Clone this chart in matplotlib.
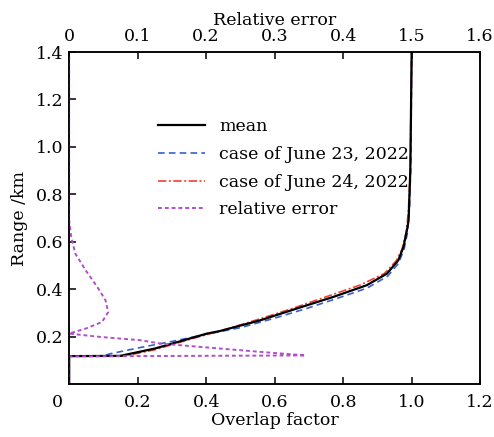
import numpy as np
import matplotlib
matplotlib.use("Agg")
import matplotlib.pyplot as plt
from matplotlib.transforms import ScaledTranslation

plt.rcParams['font.family'] = ['DejaVu Serif']
plt.rcParams['font.size'] = 12.5

# overlap factor curves (overlap, range km)
mean_x = [0, 0, 0.149, 0.25, 0.33, 0.402, 0.441, 0.558, 0.674, 0.772, 0.869, 0.928, 0.961, 0.976, 0.986, 0.991, 0.996, 1.0]
mean_y = [0, 0.118, 0.119, 0.15, 0.183, 0.213, 0.224, 0.269, 0.323, 0.368, 0.417, 0.466, 0.522, 0.578, 0.648, 0.69, 0.9, 1.4]

jun23_x = [0, 0, 0.10, 0.12, 0.2, 0.3, 0.4, 0.5, 0.6, 0.7, 0.8, 0.87, 0.93, 0.962, 0.978, 0.988, 0.994, 0.998, 1.0]
jun23_y = [0, 0.118, 0.119, 0.128, 0.152, 0.18, 0.21, 0.238, 0.278, 0.322, 0.37, 0.405, 0.455, 0.51, 0.57, 0.64, 0.75, 0.95, 1.4]

jun24_x = [0, 0, 0.16, 0.25, 0.35, 0.45, 0.55, 0.65, 0.75, 0.85, 0.92, 0.955, 0.972, 0.984, 0.99, 0.996, 1.0]
jun24_y = [0, 0.118, 0.118, 0.145, 0.188, 0.228, 0.272, 0.318, 0.368, 0.418, 0.466, 0.52, 0.57, 0.64, 0.72, 0.9, 1.4]

# relative error (top axis)
err_x = [0, 0, 0.345, 0.279, 0.22, 0.133, 0.104, 0.045, 0, 0.024, 0.048, 0.057, 0.053, 0.041, 0.024, 0.009, 0.003, 0, 0]
err_y = [0, 0.117, 0.121, 0.136, 0.150, 0.171, 0.185, 0.199, 0.213, 0.234, 0.262, 0.304, 0.354, 0.41, 0.48, 0.55, 0.62, 0.69, 1.4]

xticks = [0, 0.2, 0.4, 0.6, 0.8, 1.0, 1.2]
xlabels = ['0', '0.2', '0.4', '0.6', '0.8', '1.0', '1.2']
yticks = [0.2, 0.4, 0.6, 0.8, 1.0, 1.2, 1.4]
ylabels = ['0.2', '0.4', '0.6', '0.8', '1.0', '1.2', '1.4']
top_ticks = [0, 0.1, 0.2, 0.3, 0.4, 0.5, 0.6]
top_labels = ['0', '0.1', '0.2', '0.3', '0.4', '1.5', '1.6']

fig = plt.figure(figsize=(4.94, 4.37), dpi=100)
ax = fig.add_axes([0.140, 0.121, 0.832, 0.760])

l1, = ax.plot(mean_x, mean_y, color='black', lw=1.6, label='mean', zorder=4)
l2, = ax.plot(jun23_x, jun23_y, color='#3a5fd0', lw=1.2, ls=(0, (4, 2.5)), label='case of June 23, 2022')
l3, = ax.plot(jun24_x, jun24_y, color='#f04030', lw=1.2, ls=(0, (5, 1.5, 1.2, 1.5)), label='case of June 24, 2022')

ax.set_xlim(0, 1.2)
ax.set_ylim(0, 1.4)
ax.set_xticks(xticks)
ax.set_xticklabels(xlabels)
ax.set_yticks(yticks)
ax.set_yticklabels(ylabels)
ax.tick_params(direction='in', length=5, width=1.1, pad=7)
ax.tick_params(axis='y', pad=4)
# corner zero label shifted left
zl = ax.get_xticklabels()[0]
zl.set_transform(zl.get_transform() + ScaledTranslation(-12 / 100, 0, fig.dpi_scale_trans))
ax.set_xlabel('Overlap factor', labelpad=1)
ax.set_ylabel('Range /km', labelpad=6)

ax2 = ax.twiny()
l4, = ax2.plot(err_x, err_y, color='#b050c8', lw=1.4, ls=(0, (2, 1.5)), label='relative error')
ax2.set_xlim(0, 0.6)
ax2.set_xticks(top_ticks)
ax2.set_xticklabels(top_labels)
ax2.tick_params(direction='in', length=5, width=1.1, pad=5)
ax2.set_xlabel('Relative error', labelpad=2)

for a in (ax, ax2):
    for s in a.spines.values():
        s.set_linewidth(1.1)

ax.legend(handles=[l1, l2, l3, l4], loc='upper left', bbox_to_anchor=(0.2, 0.822),
          frameon=False, handlelength=2.7, labelspacing=0.62, borderaxespad=0)

fig.savefig('out.png', dpi=100)
